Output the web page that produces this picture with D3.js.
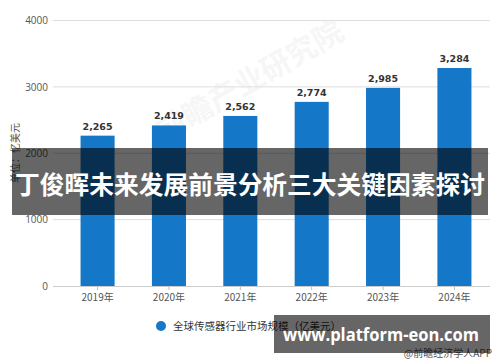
<!DOCTYPE html>
<html><head><meta charset="utf-8">
<script src="https://cdn.jsdelivr.net/npm/d3@7"></script>
<style>html,body{margin:0;padding:0;background:#fff;}svg{display:block;}</style>
</head><body>
<div id="chart"></div>
<script>
const categories = ["2019年","2020年","2021年","2022年","2023年","2024年"];
const values = [2265, 2419, 2562, 2774, 2985, 3284];
const yTicks = [0, 1000, 2000, 3000, 4000];
const seriesName = "全球传感器行业市场规模（亿美元）";
const yTitle = "单位：亿美元";
const bannerText = "丁俊晖未来发展前景分析三大关键因素探讨";
const footerUrl = "www.platform-eon.com";
const footerSource = "@前瞻经济学人APP";

const W = 500, H = 362;
const svg = d3.select("#chart").append("svg").attr("width", W).attr("height", H);
const cjk = "'Noto Sans CJK SC','Noto Sans',sans-serif";
const num = "'Open Sans','DejaVu Sans',sans-serif";

const x = d3.scaleBand().domain(categories).range([62, 490]).paddingInner(0.523).paddingOuter(0.26);
const y = d3.scaleLinear().domain([0, 4000]).range([286, 20.5]);

// faint watermark
svg.append("text").attr("transform", "translate(255,90) rotate(-30)")
  .attr("text-anchor", "middle").attr("font-family", cjk).attr("font-size", 30).attr("font-weight", "bold")
  .attr("fill", "#000").attr("opacity", 0.03).text("前瞻产业研究院");

// gridlines
const yAxis = d3.axisLeft(y).tickValues(yTicks).tickSize(0).tickPadding(5).tickFormat(d3.format("d"));
const gy = svg.append("g").attr("transform", "translate(53,0)").call(yAxis);
gy.select(".domain").remove();
gy.selectAll("text").attr("font-family", num).attr("font-size", 10).attr("fill", "#555");
svg.append("g").selectAll("line").data(yTicks.filter(d => d > 0)).join("line")
  .attr("x1", 53).attr("x2", 490).attr("y1", d => y(d)).attr("y2", d => y(d))
  .attr("stroke", "#dedede").attr("stroke-width", 1);

// bars
svg.append("g").selectAll("rect").data(values).join("rect")
  .attr("x", (d, i) => x(categories[i])).attr("width", x.bandwidth())
  .attr("y", d => y(d)).attr("height", d => y(0) - y(d))
  .attr("fill", "#1577c8");

// x axis
const xAxis = d3.axisBottom(x).tickSize(4).tickPadding(4);
const gx = svg.append("g").attr("transform", `translate(0,${y(0)})`).call(xAxis);
gx.select(".domain").remove();
gx.selectAll("line").attr("stroke", "#bbb");
gx.selectAll("text").attr("font-family", cjk).attr("font-size", 10).attr("fill", "#555");
svg.append("line").attr("x1", 53).attr("x2", 490).attr("y1", y(0) + 0.5).attr("y2", y(0) + 0.5)
  .attr("stroke", "#ccc");

// value labels
svg.append("g").selectAll("text").data(values).join("text")
  .attr("x", (d, i) => x(categories[i]) + x.bandwidth() / 2).attr("y", d => y(d) - 6)
  .attr("text-anchor", "middle").attr("font-family", "'DejaVu Sans',sans-serif")
  .attr("font-size", 9.5).attr("font-weight", "bold").attr("fill", "#333")
  .text(d => d3.format(",")(d));

// y title
svg.append("text").attr("transform", "translate(19,153) rotate(-90)")
  .attr("text-anchor", "middle").attr("font-family", cjk).attr("font-size", 10).attr("fill", "#555")
  .text(yTitle);

// legend
svg.append("circle").attr("cx", 161).attr("cy", 326).attr("r", 5).attr("fill", "#1577c8");
svg.append("text").attr("x", 173).attr("y", 330).attr("font-family", cjk).attr("font-size", 10.5)
  .attr("fill", "#333").text(seriesName);

// source
svg.append("text").attr("x", 492).attr("y", 357).attr("text-anchor", "end").attr("font-family", cjk)
  .attr("font-size", 10).attr("fill", "#555").text(footerSource);

// banner overlay
svg.append("rect").attr("x", 12).attr("y", 148).attr("width", 476).attr("height", 67)
  .attr("fill", "#000").attr("opacity", 0.6);
svg.append("text").attr("x", 250).attr("y", 193.5).attr("text-anchor", "middle")
  .attr("font-family", cjk).attr("font-size", 24.5).attr("font-weight", "bold").attr("fill", "#fff")
  .attr("textLength", 470).attr("lengthAdjust", "spacingAndGlyphs")
  .text(bannerText);

// footer overlay
svg.append("rect").attr("x", 274).attr("y", 315).attr("width", 216).attr("height", 38)
  .attr("fill", "#000").attr("opacity", 0.6);
svg.append("text").attr("x", 381).attr("y", 341).attr("text-anchor", "middle")
  .attr("font-family", "'Open Sans','DejaVu Sans',sans-serif").attr("font-size", 18).attr("font-weight", "bold")
  .attr("fill", "#fff").attr("textLength", 196).attr("lengthAdjust", "spacingAndGlyphs").text(footerUrl);
</script>
</body></html>
